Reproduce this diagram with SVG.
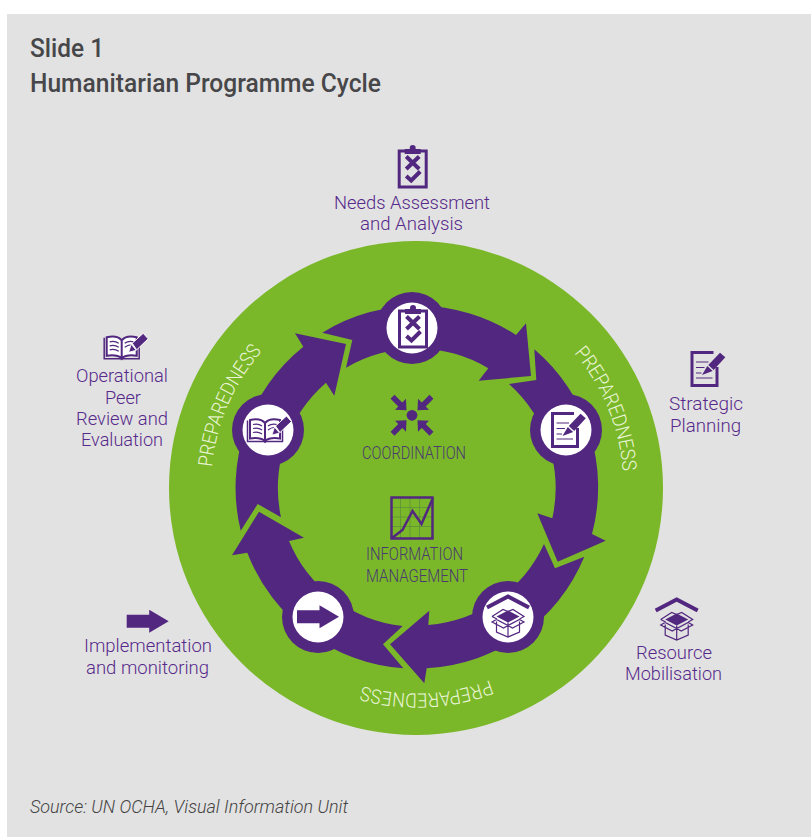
<svg xmlns="http://www.w3.org/2000/svg" width="811" height="837" viewBox="0 0 811 837">
<style>
text{font-family:Roboto,"Liberation Sans",sans-serif}
.h{font-size:25px;font-weight:500;fill:#47474a}
.l{font-size:19px;font-weight:300;fill:#56298a}
.c{font-size:18px;font-weight:300;fill:#4a3a70}
.p{font-size:20px;font-weight:300;fill:#e9f4d5}
.s{font-size:18px;font-style:italic;font-weight:300;fill:#444}
.arrow{fill:#52277f}
.halo{fill:#52277f}
.disc{fill:#fff}
.ln{fill:none;stroke:#52277f;stroke-width:1.2}
.pu{fill:#52277f}
.o3{fill:none;stroke:#52277f;stroke-width:3}
</style>
<defs>
<g id="i-clip">
<rect x="-13.5" y="-15" width="27" height="36" class="o3"/>
<rect x="-8" y="-17" width="16" height="5" class="pu"/>
<circle cx="0" cy="-18" r="3" class="pu"/>
<path d="M-6.5 -9.5L6.5 3M6.5 -9.5L-6.5 3" fill="none" stroke="#52277f" stroke-width="4"/>
<path d="M-6.5 10L-1.5 14.5L7.5 5.5" fill="none" stroke="#52277f" stroke-width="4"/>
</g>
<g id="i-doc">
<path d="M9 -16.5H-12.5V16.5H12.5V-2" class="o3"/>
<path d="M-8.5 -7H4M-8.5 -1.5H0M-8.5 4H-3M-8.5 9H8" class="ln" stroke-width="1.5"/>
<path d="M3.8 -4L15.5 -16.3L20.8 -11.7L9.2 1Z" class="pu"/>
<path d="M2.8 -3L8.2 2L-2.5 6Z" class="pu"/>
</g>
<g id="i-box">
<path d="M-21 -9.5L0 -20.5L21 -9.5" fill="none" stroke="#52277f" stroke-width="4"/>
<path d="M-11.5 -0.5L0 -6.5L11.5 -0.5L0 5.5Z" class="pu"/>
<path d="M-16 -0.5L-5 -7.5L0 -5.5L5 -7.5L16 -0.5L11.5 2M-16 -0.5L-11 2M-11.5 4.5V15L0 20L11.5 15V4.5M0 5.5V20M-16 5L-11.5 2.5L0 8.5L11.5 2.5L16 5L4.5 11L0 8.5L-4.5 11Z" class="ln"/>
</g>
<path id="i-arrow" d="M-21 -6.5H1.5V-11.5L21 0L1.5 11.5V6.5H-21Z" class="pu"/>
<g id="i-book">
<path d="M-17.5 -10.5V10.5H17.5V-10.5" fill="none" stroke="#52277f" stroke-width="1.5"/>
<path d="M-15 -11C-9 -12.5 -3 -11.5 0 -8V10C-3 7.5 -9 6.5 -15 7.5ZM15 -11C9 -12.5 3 -11.5 0 -8V10C3 7.5 9 6.5 15 7.5Z" fill="#fff" stroke="#52277f" stroke-width="2"/>
<path d="M-12 -6.5C-8 -7.5 -5 -6.5 -3 -5M-12 -2.5C-8 -3.5 -5 -2.5 -3 -1M-12 1.5C-8 0.5 -5 1.5 -3 3M3 -5C5 -6.5 8 -7.5 12 -6.5M3 -1C5 -2.5 7 -3.5 9 -3.5" class="ln" stroke-width="0.9"/>
<path d="M10.5 -5L21.5 -15L26.5 -9.5L15 1.5Z" fill="#52277f" stroke="#fff" stroke-width="1"/>
<path d="M9.5 -4L14.5 2L7 4Z" class="pu" stroke="#fff" stroke-width="0.8"/>
</g>
<g id="t-arrow">
<path d="M-19.5 -18.5L-10.5 -9.5" stroke="#52277f" stroke-width="5.5" fill="none"/>
<path d="M-5.5 -5L-6 -16.5L-17 -5.5Z" class="pu"/>
</g>
<path id="pa-left" d="M212 467A206 206 0 0 1 317 307"/>
<path id="pa-right" d="M574 353A206 206 0 0 1 615 545"/>
<path id="pa-bottom" d="M490 680A206 206 0 0 1 290 650"/>
</defs>

<rect x="7" y="14" width="804" height="823" fill="#e2e2e2"/>
<circle id="green-disc" cx="416" cy="488" r="247" fill="#7ab829"/>

<text class="h" x="30" y="57" textLength="74" lengthAdjust="spacingAndGlyphs">Slide 1</text>
<text class="h" x="30" y="92" textLength="351" lengthAdjust="spacingAndGlyphs">Humanitarian Programme Cycle</text>

<g id="connectors">
<path class="arrow" d="M322.3 332.7A181 181 0 0 1 516 335L526 323.3L531 376L478.7 380.7L488.3 368.3A139 139 0 0 0 346 367.7L352.3 340Z"/>
<path class="arrow" d="M534.3 349.3A181 181 0 0 1 592 534L605.7 540.7L557.7 561.7L537.3 513.3L552.3 518.3A139 139 0 0 0 509 384L536.3 380Z"/>
<path class="arrow" d="M584.3 556.7A181 181 0 0 1 426.7 668.3L424.3 683.3L390 644.3L429.3 610.7L428.3 625A139 139 0 0 0 544 544L555 568.3Z"/>
<path class="arrow" d="M403.3 668.3A181 181 0 0 1 247.3 552.7L232 555.3L259 511.7L304 537.7L289 541A139 139 0 0 0 402.7 626L383 644.3Z"/>
<path class="arrow" d="M240.7 530.7A181 181 0 0 1 303.3 346.7L295 333.3L346 344L334.3 395.7L326 382.7A139 139 0 0 0 281 517.3L257.7 504Z"/>
</g>

<g id="node-needs">
<circle class="halo" cx="412" cy="328" r="36"/><circle class="disc" cx="412" cy="328" r="25.5"/>
<use href="#i-clip" x="413" y="326"/>
</g>
<g id="node-strategic">
<circle class="halo" cx="566" cy="430" r="36"/><circle class="disc" cx="566" cy="430" r="25.5"/>
<use href="#i-doc" x="565" y="430"/>
</g>
<g id="node-resource">
<circle class="halo" cx="508" cy="617" r="36"/><circle class="disc" cx="508" cy="617" r="25.5"/>
<use href="#i-box" x="508" y="617"/>
</g>
<g id="node-implementation">
<circle class="halo" cx="318" cy="617" r="36"/><circle class="disc" cx="318" cy="617" r="25.5"/>
<use href="#i-arrow" x="318" y="616.7"/>
</g>
<g id="node-review">
<circle class="halo" cx="268" cy="430" r="36"/><circle class="disc" cx="268" cy="430" r="25.5"/>
<use href="#i-book" x="265" y="431"/>
</g>

<g id="label-needs">
<use href="#i-clip" x="412.7" y="166"/>
<text class="l" x="334" y="209" textLength="156" lengthAdjust="spacingAndGlyphs">Needs Assessment</text>
<text class="l" x="360" y="230" textLength="103" lengthAdjust="spacingAndGlyphs">and Analysis</text>
</g>
<g id="label-strategic">
<use href="#i-doc" x="704.5" y="369"/>
<text class="l" x="669" y="410" textLength="74" lengthAdjust="spacingAndGlyphs">Strategic</text>
<text class="l" x="670" y="432" textLength="71" lengthAdjust="spacingAndGlyphs">Planning</text>
</g>
<g id="label-resource">
<use href="#i-box" x="676.7" y="620"/>
<text class="l" x="636" y="659" textLength="76" lengthAdjust="spacingAndGlyphs">Resource</text>
<text class="l" x="625" y="680" textLength="97" lengthAdjust="spacingAndGlyphs">Mobilisation</text>
</g>
<g id="label-implementation">
<use href="#i-arrow" x="147.7" y="621.3"/>
<text class="l" x="84" y="652" textLength="128" lengthAdjust="spacingAndGlyphs">Implementation</text>
<text class="l" x="86" y="674" textLength="123" lengthAdjust="spacingAndGlyphs">and monitoring</text>
</g>
<g id="label-review">
<use href="#i-book" x="121.7" y="348.3"/>
<text class="l" x="76" y="382" textLength="92" lengthAdjust="spacingAndGlyphs">Operational</text>
<text class="l" x="105" y="404" textLength="36" lengthAdjust="spacingAndGlyphs">Peer</text>
<text class="l" x="76" y="425" textLength="92" lengthAdjust="spacingAndGlyphs">Review and</text>
<text class="l" x="81" y="446" textLength="82" lengthAdjust="spacingAndGlyphs">Evaluation</text>
</g>

<g id="node-coordination">
<circle cx="412" cy="415.3" r="5.4" class="pu"/>
<use href="#t-arrow" transform="translate(412 415.3)"/>
<use href="#t-arrow" transform="translate(412 415.3) scale(-1 1)"/>
<use href="#t-arrow" transform="translate(412 415.3) scale(1 -1)"/>
<use href="#t-arrow" transform="translate(412 415.3) scale(-1 -1)"/>
<text class="c" x="362" y="459" textLength="104" lengthAdjust="spacingAndGlyphs">COORDINATION</text>
</g>
<g id="node-information">
<path d="M400.5 498V538M410 498V538M419.5 498V538M392 507.5H432M392 517H432M392 526.5H432" fill="none" stroke="#5f8f3a" stroke-width="0.8"/>
<rect x="391.5" y="497.5" width="41" height="41" fill="none" stroke="#52277f" stroke-width="2.5"/>
<path d="M392 538L402.5 530L412.5 511L421.5 524L432.5 499" fill="none" stroke="#52277f" stroke-width="2.5"/>
<text class="c" x="366" y="560" textLength="97" lengthAdjust="spacingAndGlyphs">INFORMATION</text>
<text class="c" x="366" y="582" textLength="102" lengthAdjust="spacingAndGlyphs">MANAGEMENT</text>
</g>

<g id="preparedness">
<text class="p" textLength="128" lengthAdjust="spacingAndGlyphs"><textPath href="#pa-left">PREPAREDNESS</textPath></text>
<text class="p" textLength="130" lengthAdjust="spacingAndGlyphs"><textPath href="#pa-right">PREPAREDNESS</textPath></text>
<text class="p" textLength="130" lengthAdjust="spacingAndGlyphs"><textPath href="#pa-bottom">PREPAREDNESS</textPath></text>
</g>

<text class="s" x="30" y="813" textLength="318" lengthAdjust="spacingAndGlyphs">Source: UN OCHA, Visual Information Unit</text>
</svg>
